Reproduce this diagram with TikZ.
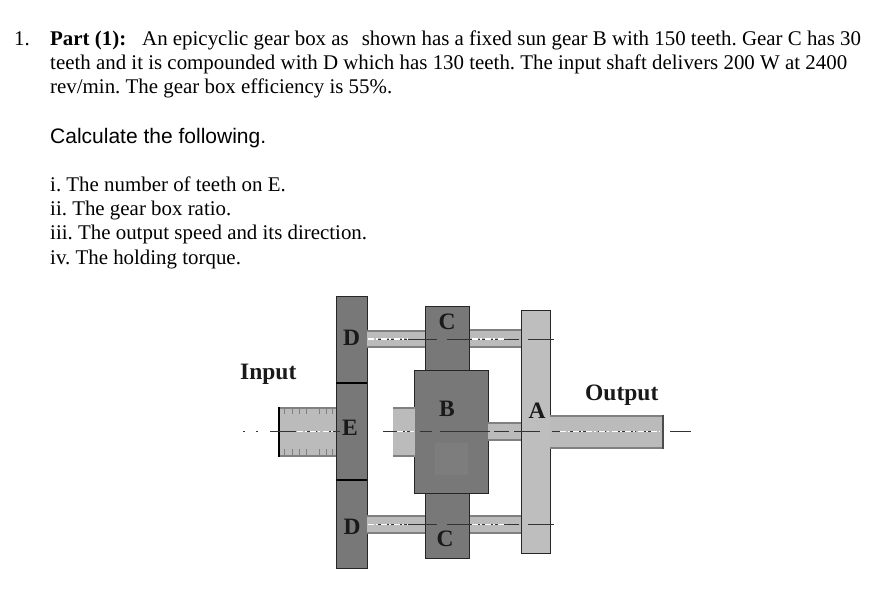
\documentclass[tikz,border=0pt]{standalone}
\usepackage{fontspec}
\setmainfont{Liberation Serif}
\setsansfont{Liberation Sans}
\usetikzlibrary{positioning}
\frenchspacing
\definecolor{gearDark}{HTML}{787878}
\definecolor{gearLight}{HTML}{BEBEBE}
\definecolor{shaftFill}{HTML}{BBBBBB}
\definecolor{shaftEdge}{HTML}{808080}
\tikzset{
    para/.style = {anchor=base west, inner sep=0pt, font=\fontsize{20.9}{24}\selectfont},
    gear/.style = {draw=black!85, line width=1pt, fill=gearDark, inner sep=0pt, outer sep=0pt},
    carrier/.style = {gear, fill=gearLight},
    shaft/.style = {fill=shaftFill, inner sep=0pt, outer sep=0pt,
        path picture={
            \fill [shaftEdge] (path picture bounding box.north west) rectangle ([yshift=-2pt]path picture bounding box.north east);
            \fill [shaftEdge] (path picture bounding box.south west) rectangle ([yshift=2pt]path picture bounding box.south east);
        }},
    tag/.style = {inner sep=0pt, font=\fontsize{23.5}{23.5}\selectfont\bfseries, text=black!90},
    centreline/.style = {draw=black!80, line width=1pt},
    glint/.style = {draw=white, line width=1.8pt, dash pattern=on 6pt off 2pt on 2pt off 3pt}
}
\begin{document}
\begin{tikzpicture}[x=1pt, y=-1pt]
    \useasboundingbox (0,0) rectangle (877,612);

    % question text
    \node (num) [para] at (14,46) {1.};
    \node (l1) [para] at (50,46) {\textbf{Part (1):}\hspace{16pt}An epicyclic gear box as\hspace{13pt}shown has a fixed sun gear B with 150 teeth. Gear C has 30};
    \node (l2) [para] at (50,70) {teeth and it is compounded with D which has 130 teeth. The input shaft delivers 200 W at 2400};
    \node (l3) [para] at (50,94) {rev/min. The gear box efficiency is 55\%.};
    \node (calc) [para, font=\fontsize{21}{24}\selectfont\sffamily] at (50,144) {Calculate the following.};
    \node (i1) [para] at (50,192) {i. The number of teeth on E.};
    \node (i2) [para] at (50,216) {ii. The gear box ratio.};
    \node (i3) [para] at (50,240) {iii. The output speed and its direction.};
    \node (i4) [para] at (50,264) {iv. The holding torque.};

    % gears
    \node (E) [gear, minimum width=31pt, minimum height=97pt] at (351.5,431.5) {};
    \node (Dt) [gear, minimum width=31pt, minimum height=87pt, above=0pt of E] {};
    \node (Db) [gear, minimum width=31pt, minimum height=88pt, below=0pt of E] {};
    \draw [black, line width=2pt] (E.north west) -- (E.north east)
                                  (E.south west) -- (E.south east);
    \node (B) [gear, minimum width=73.5pt, minimum height=123pt] at (451.25,431.5) {};
    \node (Ct) [gear, minimum width=44.5pt, minimum height=63.5pt, above=0pt of B, xshift=-4pt] {};
    \node (Cb) [gear, minimum width=44.5pt, minimum height=65pt, below=0pt of B, xshift=-4pt] {};
    \node (A) [carrier, minimum width=29pt, minimum height=243pt] at (535.5,431.5) {};
    \fill [gearDark!93!gearLight] (435,443) rectangle (468,475);

    % shafts
    \node (in) [shaft, minimum width=57pt, minimum height=50pt, left=0pt of E] {};
    \draw [black, line width=1.2pt] (in.north west) -- (in.south west);
    \node (mid) [shaft, minimum width=22pt, minimum height=50pt, left=0pt of B] {};
    \node (BA) [shaft, minimum width=33pt, minimum height=19pt, right=0pt of B] {};
    \node (out) [shaft, minimum width=113pt, minimum height=34pt, right=0pt of A] {};
    \draw [black!70, line width=1.2pt] (out.north east) -- (out.south east);
    \node (DCt) [shaft, anchor=west, minimum width=58pt, minimum height=18pt] at (367,339) {};
    \node (DCb) [shaft, anchor=west, minimum width=58pt, minimum height=19pt] at (367,524.5) {};
    \node (CAt) [shaft, anchor=west, minimum width=51.5pt, minimum height=19pt] at (469.5,338.5) {};
    \node (CAb) [shaft, anchor=west, minimum width=51.5pt, minimum height=19pt] at (469.5,524.5) {};

    % tooth marks on the input shaft
    \foreach \x in {284,292,299,306,319,326,332} {
        \draw [shaftEdge, line width=.8pt] (\x,408) -- (\x,414);
        \draw [shaftEdge, line width=.8pt] (\x,449) -- (\x,456);
    }

    % centre lines
    \coordinate (a1) at (243,431.5);
    \coordinate (a2) at (262,431.5);
    \coordinate (a3) at (270,431.5);
    \coordinate (a4) at (340,431.5);
    \coordinate (a5) at (383,431.5);
    \coordinate (a6) at (540,431.5);
    \coordinate (a7) at (552,431.5);
    \coordinate (a8) at (662,431.5);
    \coordinate (a9) at (670,431.5);
    \coordinate (a10) at (691,431.5);
    \coordinate (t1) at (377,339);
    \coordinate (t2) at (437,339);
    \coordinate (t3) at (447,339);
    \coordinate (t4) at (519,339);
    \coordinate (t5) at (528,339);
    \coordinate (t6) at (554,339);
    \coordinate (b1) at (377,524.5);
    \coordinate (b2) at (437,524.5);
    \coordinate (b3) at (447,524.5);
    \coordinate (b4) at (519,524.5);
    \coordinate (b5) at (528,524.5);
    \coordinate (b6) at (554,524.5);

    \path [centreline]
        (a1) edge [dash pattern=on 2pt off 11pt] (a2)
        (a3) edge [dash pattern=on 26pt off 11pt on 10pt off 10pt] (a4)
        (a5) edge [dash pattern=on 29pt off 8pt on 12pt off 8pt on 50pt off 4pt on 15pt off 5pt] (a6)
        (a7) edge [dash pattern=on 8pt off 10pt on 20pt off 8pt] (a8)
        (a9) edge (a10)
        (t1) edge (t2)
        (t3) edge (t4)
        (t5) edge (t6)
        (b1) edge (b2)
        (b3) edge (b4)
        (b5) edge (b6);
    \path [glint]
        (in.west) ++(18,0) edge ++(38,0)
        (mid.west) ++(4,0) edge ++(17,0)
        (out.west) ++(10,0) edge ++(100,0)
        (DCt.west) ++(1,0) edge ++(40,0)
        (DCb.west) ++(1,0) edge ++(40,0)
        (CAt.west) ++(2,.5) edge ++(34,0)
        (CAb.west) ++(2,0) edge ++(34,0);

    % labels
    \node (lD1) [tag] at (351.5,338) {D};
    \node (lE) [tag] at (350,428) {E};
    \node (lD2) [tag] at (352,527) {D};
    \node (lC1) [tag] at (447,322) {C};
    \node (lB) [tag] at (447,409) {B};
    \node (lC2) [tag] at (445,539) {C};
    \node (lA) [tag] at (537,411) {A};
    \node (lin) [tag, anchor=base west] at (240,379) {Input};
    \node (lout) [tag, anchor=base west] at (585,400) {Output};
\end{tikzpicture}
\end{document}
